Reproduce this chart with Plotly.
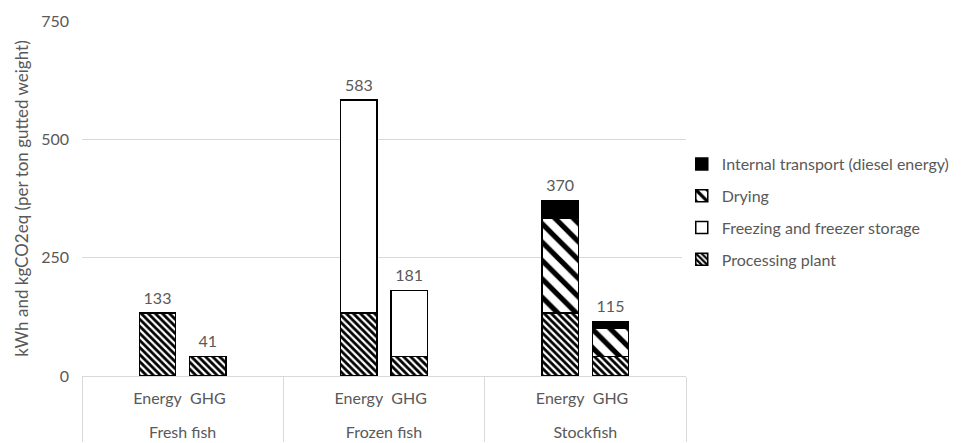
import plotly.graph_objects as go

# Products and the two measures shown for each
products = ["Fresh fish", "Frozen fish", "Stockfish"]
measures = ["Energy", "GHG"]

# Stacked contributions, ordered Fresh Energy, Fresh GHG, Frozen Energy, Frozen GHG, Stockfish Energy, Stockfish GHG
processing_plant = [133, 41, 133, 41, 133, 41]
freezing_storage = [0, 0, 450, 140, 0, 0]
drying = [0, 0, 0, 0, 200, 60]
internal_transport = [0, 0, 0, 0, 37, 14]
totals = [133, 41, 583, 181, 370, 115]

# Each product gets a padded slot on either side of its two bars;
# the product label gets a leading line break to sit lower under the measures
pad_left, pad_right = " ", "  "
x_group, x_sub = [], []
for p in products:
    for s in [pad_left] + measures + [pad_right]:
        x_group.append("<br>" + p)
        x_sub.append(s)


def spread(values):
    out, i = [], 0
    for s in x_sub:
        if s in measures:
            v = values[i]
            out.append(v if v else None)
            i += 1
        else:
            out.append(None)
    return out


grey = "#595959"
font_family = "Lato, 'Open Sans', sans-serif"
fs = 16

# (name, values, pattern, legend rank)
series = [
    ("Processing plant", processing_plant, dict(shape="\\", size=5, solidity=0.55), 4),
    ("Freezing and freezer storage", freezing_storage, None, 3),
    ("Drying", drying, dict(shape="\\", size=13, solidity=0.4), 2),
    ("Internal transport (diesel energy)", internal_transport, "solid", 1),
]

fig = go.Figure()
for name, vals, pat, rank in series:
    marker = dict(line=dict(color="black", width=1.5))
    if pat == "solid":
        marker["color"] = "black"
    else:
        marker["color"] = "white"
        if pat:
            marker["pattern"] = dict(fgcolor="black", bgcolor="white", fgopacity=1,
                                     fillmode="replace", **pat)
    fig.add_trace(go.Bar(
        name=name,
        x=[x_group, x_sub],
        y=spread(vals),
        marker=marker,
        legendgroup=name,
        legendrank=rank,
    ))

# Total labels above each stack
fig.add_trace(go.Scatter(
    x=[x_group, x_sub],
    y=spread(totals),
    mode="markers+text",
    marker=dict(size=7, opacity=0),
    text=[str(v) if v is not None else "" for v in spread(totals)],
    textposition="top center",
    textfont=dict(color=grey, size=fs, family=font_family),
    showlegend=False,
    hoverinfo="skip",
))

n_slots = len(x_sub)

fig.update_layout(
    width=969,
    height=443,
    barmode="stack",
    bargap=0.28,
    plot_bgcolor="white",
    paper_bgcolor="white",
    margin=dict(l=82, r=283, t=21, b=67, autoexpand=False),
    font=dict(family=font_family, color=grey, size=fs),
    legend=dict(
        x=0.993, y=0.462, xanchor="left", yanchor="middle",
        traceorder="grouped",
        tracegroupgap=8,
        font=dict(size=fs, color=grey),
        itemwidth=30,
    ),
    xaxis=dict(
        type="multicategory",
        range=[-0.5, n_slots - 0.5],
        showline=True,
        linecolor="#d9d9d9",
        linewidth=1,
        showdividers=True,
        dividercolor="#d9d9d9",
        dividerwidth=1,
        tickangle=0,
        tickfont=dict(size=fs, color=grey),
        ticks="",
        ticklabelstandoff=8,
        automargin=False,
    ),
    yaxis=dict(
        range=[0, 750],
        tickvals=[0, 250, 500, 750],
        gridcolor="#d9d9d9",
        gridwidth=1,
        zeroline=False,
        ticks="",
        ticklabelstandoff=12,
        tickfont=dict(size=fs, color=grey),
        automargin=False,
        title=dict(text="kWh and kgCO2eq (per ton gutted weight)",
                   font=dict(size=17, color=grey), standoff=8),
    ),
)

fig.write_html("out.html")
